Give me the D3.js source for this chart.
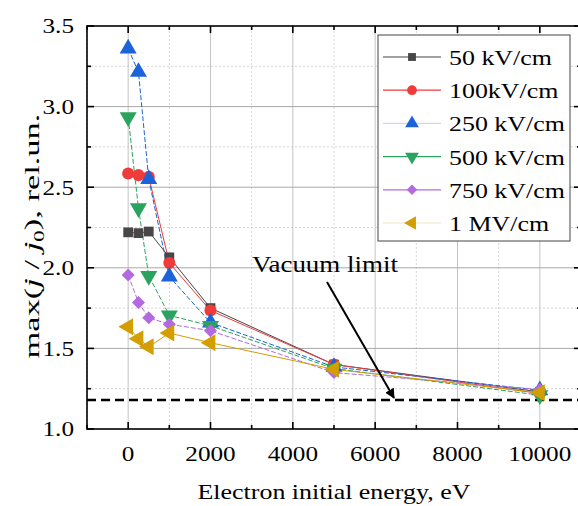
<!doctype html>
<html lang="en">
<head>
<meta charset="utf-8">
<title>max(j/j0) vs electron energy</title>
<script src="https://cdnjs.cloudflare.com/ajax/libs/d3/7.8.5/d3.min.js"></script>
<style>
    body { margin: 0; background: #fff; }
</style>
</head>
<body>
<div id="chart"></div>
<script>
// data
var energies = [0, 250, 500, 1000, 2000, 5000, 10000];
var seriesNames = ["50 kV/cm", "100kV/cm", "250 kV/cm", "500 kV/cm", "750 kV/cm", "1 MV/cm"];
var v50   = [2.22, 2.215, 2.225, 2.065, 1.75, 1.40, 1.23];
var v100  = [2.585, 2.575, 2.565, 2.03, 1.735, 1.40, 1.22];
var v250  = [3.36, 3.215, 2.55, 1.945, 1.66, 1.385, 1.24];
var v500  = [2.935, 2.37, 1.95, 1.705, 1.64, 1.375, 1.21];
var v750  = [1.955, 1.785, 1.69, 1.65, 1.61, 1.35, 1.245];
var v1000 = [1.635, 1.56, 1.51, 1.595, 1.535, 1.37, 1.225];
var xTicks = [0, 2000, 4000, 6000, 8000, 10000];
var yTicks = [1.0, 1.5, 2.0, 2.5, 3.0, 3.5];
var vacuumLimit = 1.18;

var allValues = [v50, v100, v250, v500, v750, v1000];
var colors = ["#474747", "#f03b3b", "#1c63d9", "#2aa35e", "#b36ae0", "#d29e00"];
var legendLine = ["#474747", "#f03b3b", "#c9d8f5", "#2aa35e", "#b36ae0", "#efe3c0"];
var dashes = [null, null, "5,2", "5,2", "5,2", null];
var FONT = "Liberation Serif";

var width = 578, height = 506;
var margin = {left: 87, top: 26, right: -3, bottom: 77};

var svg = d3.select("#chart").append("svg")
    .attr("width", width)
    .attr("height", height);

var x = d3.scaleLinear().domain([-1000, 11000]).range([margin.left, width - margin.right]);
var y = d3.scaleLinear().domain([1.0, 3.5]).range([height - margin.bottom, margin.top]);

// the original figure is stretched sideways: stretch text to the widths it has there
function txt(parent, s, size) {
    return parent.append("text").attr("font-family", FONT).attr("font-size", size).text(s);
}
function stretch(sel, sx) {
    sel.attr("transform", function() {
        var tx = +d3.select(this).attr("x"), ty = +d3.select(this).attr("y");
        return "translate(" + tx + "," + ty + ") scale(" + sx + ",1) translate(" + (-tx) + "," + (-ty) + ")";
    });
}
function measure(s, size) {
    var t = txt(svg, s, size);
    var w = t.node().getComputedTextLength();
    t.remove();
    return w;
}

// grid
var minorX = d3.range(-1000, 11001, 1000).filter(function(d) { return d % 2000 !== 0; });
var minorY = d3.range(1.25, 3.5, 0.5);
svg.append("g").selectAll("line").data(minorX).enter().append("line")
    .attr("x1", x).attr("x2", x).attr("y1", y(1)).attr("y2", y(3.5))
    .attr("stroke", "#d6d6d6").attr("stroke-dasharray", "2,2");
svg.append("g").selectAll("line").data(minorY).enter().append("line")
    .attr("x1", x(-1000)).attr("x2", x(11000)).attr("y1", y).attr("y2", y)
    .attr("stroke", "#d6d6d6").attr("stroke-dasharray", "2,2");
svg.append("g").selectAll("line").data(xTicks).enter().append("line")
    .attr("x1", x).attr("x2", x).attr("y1", y(1)).attr("y2", y(3.5))
    .attr("stroke", "#c4c4c4");
svg.append("g").selectAll("line").data(yTicks.slice(1, -1)).enter().append("line")
    .attr("x1", x(-1000)).attr("x2", x(11000)).attr("y1", y).attr("y2", y)
    .attr("stroke", "#a8a8a8");

// vacuum limit
svg.append("line")
    .attr("x1", x(-1000)).attr("x2", x(11000))
    .attr("y1", y(vacuumLimit)).attr("y2", y(vacuumLimit))
    .attr("stroke", "#000").attr("stroke-width", 2.5).attr("stroke-dasharray", "9,5");

// series
var symbols = [
    {type: d3.symbolSquare, size: 95, rot: 0},
    {type: d3.symbolCircle, size: 115, rot: 0},
    {type: d3.symbolTriangle, size: 125, rot: 0},
    {type: d3.symbolTriangle, size: 125, rot: 180},
    {type: d3.symbolSquare, size: 85, rot: 45},
    {type: d3.symbolTriangle, size: 125, rot: -90}
];

var line = d3.line()
    .x(function(d) { return x(d[0]); })
    .y(function(d) { return y(d[1]); });

allValues.forEach(function(vals, i) {
    var pts = energies.map(function(e, k) { return [e, vals[k]]; });
    svg.append("path")
        .datum(pts)
        .attr("d", line)
        .attr("fill", "none")
        .attr("stroke", colors[i])
        .attr("stroke-width", 1)
        .attr("stroke-dasharray", dashes[i]);
});
allValues.forEach(function(vals, i) {
    var pts = energies.map(function(e, k) { return [e, vals[k]]; });
    svg.append("g").selectAll("path").data(pts).enter().append("path")
        .attr("d", d3.symbol().type(symbols[i].type).size(symbols[i].size))
        .attr("transform", function(d) {
            return "translate(" + x(d[0]) + "," + y(d[1]) + ") rotate(" + symbols[i].rot + ")";
        })
        .attr("fill", colors[i]);
});

// frame and ticks (all pointing inward)
var frame = svg.append("g");
frame.append("rect")
    .attr("x", x(-1000)).attr("y", y(3.5))
    .attr("width", x(11000) - x(-1000)).attr("height", y(1) - y(3.5))
    .attr("fill", "none").attr("stroke", "#000").attr("stroke-width", 1.6);

function tickX(vals, len) {
    frame.selectAll(null).data(vals).enter().append("line")
        .attr("x1", x).attr("x2", x).attr("y1", y(1)).attr("y2", y(1) - len)
        .attr("stroke", "#000").attr("stroke-width", 1.6);
    frame.selectAll(null).data(vals).enter().append("line")
        .attr("x1", x).attr("x2", x).attr("y1", y(3.5)).attr("y2", y(3.5) + len)
        .attr("stroke", "#000").attr("stroke-width", 1.6);
}
function tickY(vals, len) {
    frame.selectAll(null).data(vals).enter().append("line")
        .attr("x1", x(-1000)).attr("x2", x(-1000) + len).attr("y1", y).attr("y2", y)
        .attr("stroke", "#000").attr("stroke-width", 1.6);
    frame.selectAll(null).data(vals).enter().append("line")
        .attr("x1", x(11000)).attr("x2", x(11000) - len).attr("y1", y).attr("y2", y)
        .attr("stroke", "#000").attr("stroke-width", 1.6);
}
tickX(xTicks, 7); tickX(minorX, 4);
tickY(yTicks, 7); tickY(minorY, 4);

// tick labels
var tickScale = 63 / measure("10000", 22);
var gx = svg.append("g");
xTicks.forEach(function(d) {
    txt(gx, d, 22).attr("x", x(d)).attr("y", 461)
        .attr("text-anchor", "middle")
        .call(stretch, tickScale);
});
var gy = svg.append("g");
yTicks.forEach(function(d) {
    txt(gy, d.toFixed(1), 22).attr("x", 74).attr("y", y(d) + 7.5)
        .attr("text-anchor", "end")
        .call(stretch, tickScale);
});

// axis titles
var xTitle = "Electron initial energy, eV";
txt(svg, xTitle, 22).attr("x", 334).attr("y", 499)
    .attr("text-anchor", "middle")
    .call(stretch, 273 / measure(xTitle, 22));

var yt = svg.append("text")
    .attr("font-family", FONT)
    .attr("text-anchor", "middle")
    .attr("font-size", 21);
yt.append("tspan").text("max(");
yt.append("tspan").attr("font-style", "italic").text("j");
yt.append("tspan").text(" / ");
yt.append("tspan").attr("font-style", "italic").text("j");
yt.append("tspan").attr("dy", 5).attr("font-size", 14).text("0");
yt.append("tspan").attr("dy", -5).text("), rel.un.");
var ytLen = yt.node().getComputedTextLength();
yt.attr("transform", "translate(39,236) rotate(-90) scale(" + (245 / ytLen) + ",1)");

// vacuum limit annotation
svg.append("defs").append("marker")
    .attr("id", "arrow")
    .attr("viewBox", "0 0 10 10")
    .attr("refX", 9).attr("refY", 5)
    .attr("markerWidth", 5).attr("markerHeight", 5)
    .attr("orient", "auto")
    .append("path").attr("d", "M0,0 L10,5 L0,10 z").attr("fill", "#000");
svg.append("line")
    .attr("x1", 327).attr("y1", 282)
    .attr("x2", 394).attr("y2", 398)
    .attr("stroke", "#000").attr("stroke-width", 2)
    .attr("marker-end", "url(#arrow)");
txt(svg, "Vacuum limit", 23).attr("x", 252).attr("y", 272)
    .call(stretch, 146 / measure("Vacuum limit", 23));

// legend
var lg = svg.append("g");
lg.append("rect")
    .attr("x", 378).attr("y", 35).attr("width", 192).attr("height", 206)
    .attr("fill", "#fff").attr("stroke", "#444").attr("stroke-width", 1);
var legScale = 103 / measure(seriesNames[0], 22);
seriesNames.forEach(function(name, i) {
    var ly = 57 + i * 33.2;
    lg.append("line")
        .attr("x1", 383).attr("x2", 441).attr("y1", ly).attr("y2", ly)
        .attr("stroke", legendLine[i]).attr("stroke-width", 1.2);
    lg.append("path")
        .attr("d", d3.symbol().type(symbols[i].type).size(symbols[i].size * 0.65))
        .attr("transform", "translate(412," + ly + ") rotate(" + symbols[i].rot + ")")
        .attr("fill", colors[i]);
    txt(lg, name, 22).attr("x", 449).attr("y", ly + 8)
        .call(stretch, legScale);
});
</script>
</body>
</html>
